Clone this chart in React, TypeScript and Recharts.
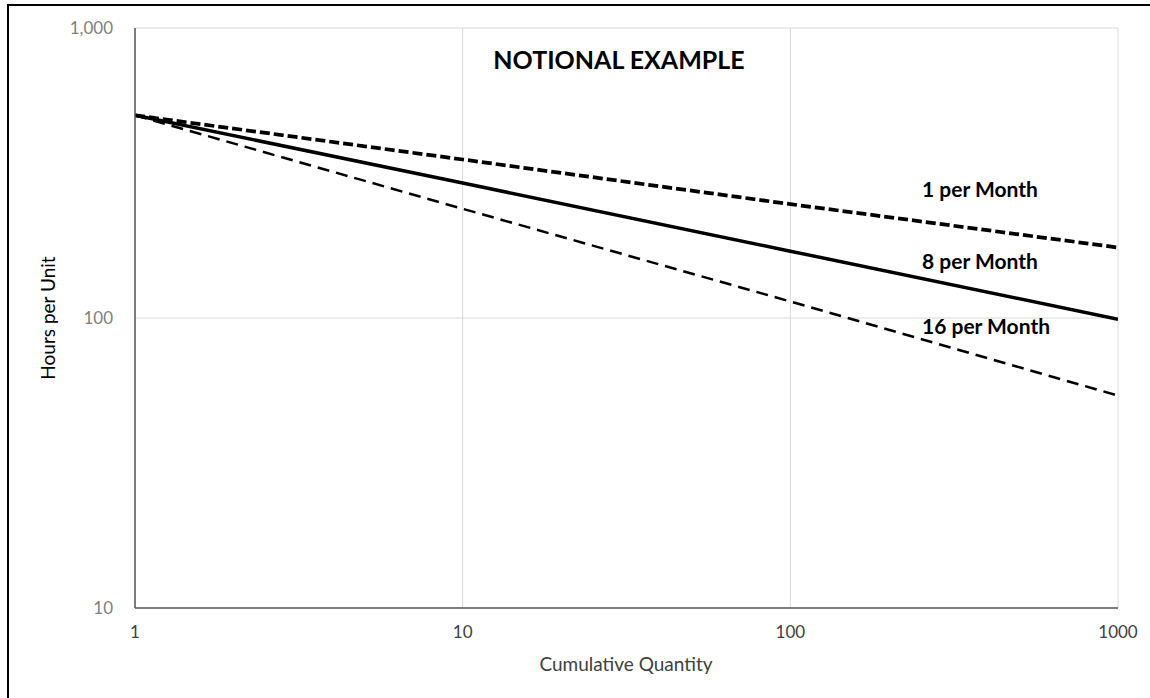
import { LineChart, Line, XAxis, YAxis, CartesianGrid } from 'recharts'

const quantities = [1, 10, 100, 1000]
const onePerMonth = [500, 352, 247, 175]
const eightPerMonth = [500, 292, 170, 99]
const sixteenPerMonth = [500, 238, 114, 54]

const xTicks = [1, 10, 100, 1000]
const yTicks = [10, 100, 1000]

const data = quantities.map((q, i) => ({
  q,
  one: onePerMonth[i],
  eight: eightPerMonth[i],
  sixteen: sixteenPerMonth[i],
}))

const font = 'Lato, "Open Sans", sans-serif'

export default function App() {
  return (
    <div
      style={{
        position: 'absolute',
        top: 0,
        left: 0,
        width: 1150,
        height: 698,
        background: '#fff',
        fontFamily: font,
      }}
    >
      <div
        style={{
          position: 'absolute',
          top: 4,
          left: 7,
          right: 0,
          bottom: 0,
          borderTop: '2px solid #000',
          borderLeft: '2px solid #000',
        }}
      />
      <LineChart
        width={1150}
        height={698}
        data={data}
        margin={{ top: 28, right: 32, bottom: 0, left: 0 }}
        style={{ position: 'absolute', top: 0, left: 0 }}
      >
        <CartesianGrid stroke="#d9d9d9" strokeWidth={1} />
        <XAxis
          dataKey="q"
          type="number"
          scale="log"
          domain={[1, 1000]}
          ticks={xTicks}
          height={90}
          axisLine={{ stroke: '#595959', strokeWidth: 1.5 }}
          tickLine={false}
          tickSize={0}
          tickMargin={18}
          tick={{ fill: '#404040', fontSize: 17, fontFamily: font }}
          allowDataOverflow
        />
        <YAxis
          type="number"
          scale="log"
          domain={[10, 1000]}
          ticks={yTicks}
          width={135}
          axisLine={{ stroke: '#595959', strokeWidth: 1.5 }}
          tickLine={false}
          tickSize={0}
          tickMargin={22}
          tick={{ fill: '#7f7f7f', fontSize: 17, fontFamily: font }}
          tickFormatter={(v: number) => v.toLocaleString('en-US')}
          allowDataOverflow
        />
        <Line
          dataKey="one"
          stroke="#000"
          strokeWidth={3.75}
          strokeDasharray="10 4"
          dot={false}
          isAnimationActive={false}
        />
        <Line
          dataKey="eight"
          stroke="#000"
          strokeWidth={3.5}
          dot={false}
          isAnimationActive={false}
        />
        <Line
          dataKey="sixteen"
          stroke="#000"
          strokeWidth={2.5}
          strokeDasharray="12 7"
          dot={false}
          isAnimationActive={false}
        />
        <text x={619} y={59} textAnchor="middle" dominantBaseline="central" fontSize={25} fontWeight={700} fontFamily={font} fill="#000">
          NOTIONAL EXAMPLE
        </text>
        <text x={922} y={188} dominantBaseline="central" fontSize={21} fontWeight={700} fontFamily={font} fill="#000">
          1 per Month
        </text>
        <text x={922} y={260} dominantBaseline="central" fontSize={21} fontWeight={700} fontFamily={font} fill="#000">
          8 per Month
        </text>
        <text x={922} y={325} dominantBaseline="central" fontSize={21} fontWeight={700} fontFamily={font} fill="#000">
          16 per Month
        </text>
        <text x={626} y={663} textAnchor="middle" dominantBaseline="central" fontSize={19} fontFamily={font} fill="#404040">
          Cumulative Quantity
        </text>
        <text
          x={47}
          y={318}
          textAnchor="middle"
          dominantBaseline="central"
          fontSize={19}
          fontFamily={font}
          fill="#000"
          transform="rotate(-90 47 318)"
        >
          Hours per Unit
        </text>
      </LineChart>
    </div>
  )
}
